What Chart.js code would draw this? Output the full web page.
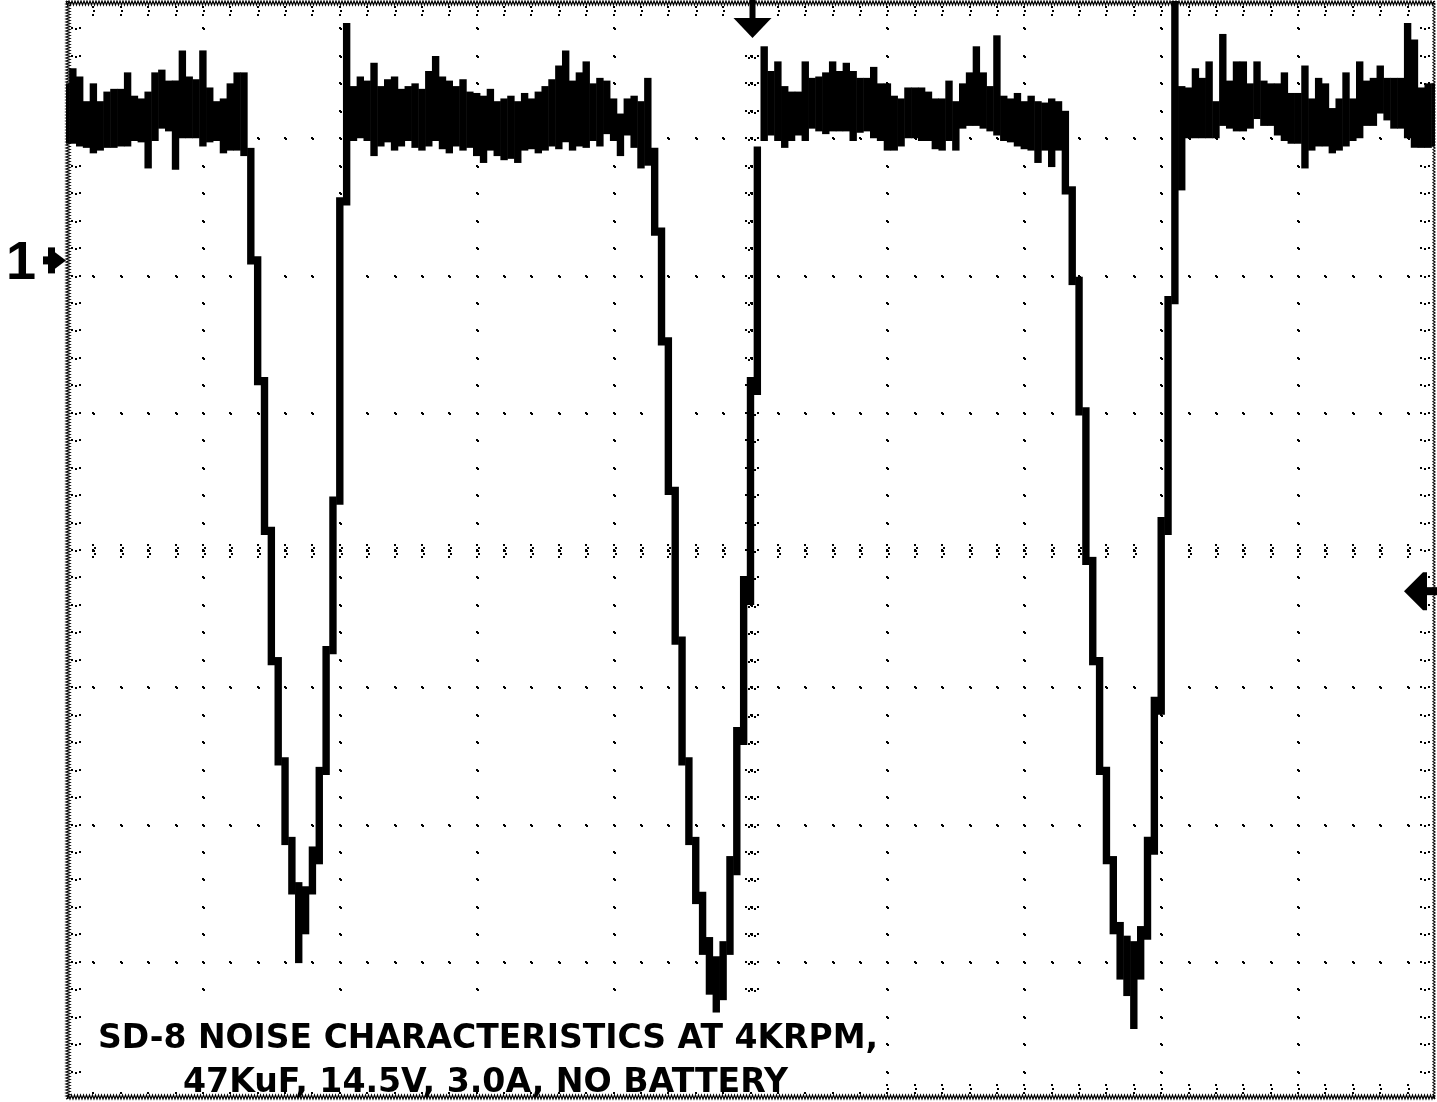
<!DOCTYPE html>
<html>
<head>
<meta charset="utf-8">
<script src="https://cdn.jsdelivr.net/npm/chart.js@4.4.1/dist/chart.umd.min.js"></script>
<style>
  html, body { margin: 0; padding: 0; background: #fff; }
  #wrap { width: 1437px; height: 1102px; position: relative; }
</style>
</head>
<body>
<div id="wrap"><canvas id="scope"></canvas></div>
<script>
// Scope screen: 10 horizontal divisions (-5..5), 8 vertical divisions (-4..4).
// Each sample column holds the min / max of the trace inside it (peak detect).
const SAMPLE_STEP = 0.05;

const TRACE_HIGH = [
    3.40, 3.51, 3.45, 3.27, 3.40, 3.27, 3.34, 3.36, 3.36, 3.48, 3.31, 3.29, 3.34, 3.48, 3.50, 3.42, 3.42, 3.64, 3.45, 3.43, 3.64, 3.37, 3.27, 3.29, 3.40, 3.48, 3.48,
    2.93, 2.14, 1.26, 0.17, -0.78, -1.51, -2.09, -2.42, -2.45, -2.16, -1.58, -0.70, 0.39, 2.57, 3.84,
    3.38, 3.45, 3.42, 3.55, 3.38, 3.43, 3.45, 3.36, 3.38, 3.40, 3.36, 3.49, 3.60, 3.45, 3.42, 3.38, 3.43, 3.34, 3.33, 3.31, 3.36, 3.27,
    3.29, 3.31, 3.27, 3.33, 3.29, 3.34, 3.38, 3.43, 3.53, 3.64, 3.42, 3.48, 3.56, 3.40, 3.44, 3.42, 3.29, 3.18, 3.29, 3.31, 3.27, 3.44,
    2.93, 2.35, 1.55, 0.46, -0.63, -1.51, -2.09, -2.49, -2.82, -2.96, -2.85, -2.23, -1.29, -0.19, 1.26, 2.94, 3.67,
    3.49, 3.56, 3.38, 3.34, 3.34, 3.56, 3.44, 3.45, 3.48, 3.56, 3.49, 3.55, 3.49, 3.44, 3.44, 3.52, 3.40, 3.40, 3.31, 3.29, 3.37, 3.37,
    3.37, 3.34, 3.29, 3.29, 3.42, 3.27, 3.40, 3.48, 3.67, 3.48, 3.38, 3.75, 3.31, 3.29, 3.33, 3.27, 3.31, 3.27, 3.26, 3.29, 3.27,
    3.20, 2.65, 1.99, 1.04, -0.05, -0.78, -1.58, -2.23, -2.71, -2.81, -2.85, -2.74, -2.09, -1.07, 0.24, 1.85, 4.00, 3.38,
    3.37, 3.51, 3.44, 3.56, 3.27, 3.76, 3.42, 3.56, 3.56, 3.40, 3.56, 3.42, 3.40, 3.40, 3.48, 3.33, 3.33, 3.53, 3.29,
    3.44, 3.40, 3.22, 3.29, 3.48, 3.29, 3.56, 3.42, 3.44, 3.53, 3.44, 3.44, 3.44, 3.84, 3.72, 3.37, 3.40, 3.40
];

const TRACE_LOW = [
    2.96, 2.96, 2.94, 2.93, 2.89, 2.91, 2.93, 2.93, 2.94, 2.94, 2.98, 2.97, 2.78, 2.98, 3.07, 3.05, 2.77, 3.00, 3.00, 3.00, 2.94, 2.97, 2.98, 2.89, 2.91, 2.91, 2.87,
    2.08, 1.20, 0.11, -0.84, -1.57, -2.15, -2.51, -3.01, -2.80, -2.51, -2.29, -1.64, -0.76, 0.33, 2.51,
    2.98, 3.00, 2.98, 2.87, 2.94, 2.97, 2.91, 2.94, 2.98, 2.93, 2.91, 2.94, 2.98, 2.92, 2.89, 2.94, 2.91, 2.93, 2.87, 2.82, 2.91, 2.87,
    2.84, 2.85, 2.82, 2.91, 2.92, 2.89, 2.91, 2.94, 2.92, 2.97, 2.91, 2.94, 2.93, 2.98, 2.94, 3.03, 2.98, 2.87, 3.02, 2.93, 2.78, 2.80,
    2.29, 1.49, 0.40, -0.69, -1.57, -2.15, -2.58, -2.95, -3.24, -3.37, -3.28, -2.95, -2.37, -1.42, -0.40, 1.13, 2.98,
    3.02, 2.98, 2.93, 2.98, 3.02, 2.98, 3.07, 3.05, 3.03, 3.05, 3.05, 3.05, 2.98, 3.04, 3.05, 3.00, 2.98, 2.91, 2.91, 2.94, 3.00, 3.00,
    2.98, 2.98, 2.92, 2.91, 2.98, 2.91, 3.07, 3.09, 3.09, 3.07, 3.05, 3.02, 2.98, 2.97, 2.94, 2.92, 2.91, 2.82, 2.91, 2.79, 2.91,
    2.59, 1.93, 0.98, -0.11, -0.84, -1.64, -2.29, -2.80, -3.13, -3.25, -3.49, -3.13, -2.84, -2.22, -1.20, 0.11, 1.79, 2.62,
    3.00, 3.00, 3.00, 3.00, 3.00, 3.09, 3.07, 3.05, 3.05, 3.07, 3.14, 3.09, 3.09, 3.02, 2.98, 2.96, 2.96, 2.78, 2.91,
    2.94, 2.94, 2.89, 2.91, 2.94, 2.98, 3.00, 3.09, 3.09, 3.18, 3.13, 3.07, 3.07, 3.00, 2.93, 2.93, 2.93, 2.94
];

const GROUND_LEVEL = 2.11;    // channel 1 marker
const TRIGGER_LEVEL = -0.30;  // right edge arrow
const TRIGGER_TIME = 0;       // top arrow
const NOTE_LINES = ["SD-8 NOISE CHARACTERISTICS AT 4KRPM,", "47KuF, 14.5V, 3.0A, NO BATTERY"];

const samples = TRACE_HIGH.map((hi, i) => ({
    x: -5 + i * SAMPLE_STEP,
    y: [TRACE_LOW[i], hi],
}));

function dot(ctx, x, y) {
    x = Math.round(x);
    y = Math.round(y);
    ctx.fillRect(x - 1, y - 1, 2, 2);
    ctx.fillRect(x, y, 2, 2);
}

function zigzag(ctx, x0, y0, x1, y1, amp) {
    const len = Math.hypot(x1 - x0, y1 - y0);
    const ux = (x1 - x0) / len, uy = (y1 - y0) / len;
    ctx.beginPath();
    for (let s = 0, k = 0; s <= len; s += 1.5, k++) {
        const off = k % 2 ? amp : 0;
        const px = x0 + ux * s - uy * off;
        const py = y0 + uy * s + ux * off;
        if (k) ctx.lineTo(px, py); else ctx.moveTo(px, py);
    }
    ctx.stroke();
}

// graticule, border ticks and the note box
const graticule = {
    id: "graticule",
    beforeDatasetsDraw(chart) {
        const { ctx, chartArea: a, scales: { x, y } } = chart;
        ctx.save();
        ctx.fillStyle = "#000";
        ctx.strokeStyle = "#000";
        ctx.lineWidth = 1.2;

        // dotted major lines
        for (let gx = -4; gx <= 4; gx++) {
            const px = x.getPixelForValue(gx);
            for (let m = -19; m <= 19; m++) dot(ctx, px, y.getPixelForValue(m * 0.2));
        }
        for (let gy = -3; gy <= 3; gy++) {
            const py = y.getPixelForValue(gy);
            for (let m = -24; m <= 24; m++) dot(ctx, x.getPixelForValue(m * 0.2), py);
        }

        // centre axes with small cross ticks
        const cx = x.getPixelForValue(0), cy = y.getPixelForValue(0);
        for (let m = -24; m <= 24; m++) {
            const px = x.getPixelForValue(m * 0.2);
            for (let d = -6; d <= 6; d += 3) ctx.fillRect(Math.round(px) + (d % 2 ? 1 : -1), Math.round(cy + d), 2, 2);
        }
        for (let m = -19; m <= 19; m++) {
            const py = y.getPixelForValue(m * 0.2);
            for (let d = -6; d <= 6; d += 3) ctx.fillRect(Math.round(cx + d), Math.round(py) + (d % 2 ? 1 : -1), 2, 2);
        }

        // border
        zigzag(ctx, a.left, a.top, a.right, a.top, 4);
        zigzag(ctx, a.right, a.top, a.right, a.bottom, 2);
        zigzag(ctx, a.right, a.bottom, a.left, a.bottom, 4);
        zigzag(ctx, a.left, a.bottom, a.left, a.top, 4);
        for (let m = -24; m <= 24; m++) {
            const px = x.getPixelForValue(m * 0.2);
            for (let d = 5; d <= 13; d += 4) {
                ctx.fillRect(Math.round(px) + (d % 8 === 5 ? -1 : 0), a.top + d, 2, 2);
                ctx.fillRect(Math.round(px) + (d % 8 === 5 ? -1 : 0), a.bottom - d - 2, 2, 2);
            }
        }
        for (let m = -19; m <= 19; m++) {
            const py = y.getPixelForValue(m * 0.2);
            for (let d = 5; d <= 13; d += 4) {
                ctx.fillRect(a.left + d, Math.round(py) + (d % 8 === 5 ? -1 : 0), 2, 2);
                ctx.fillRect(a.right - d - 2, Math.round(py) + (d % 8 === 5 ? -1 : 0), 2, 2);
            }
        }

        // note box
        ctx.fillStyle = "#fff";
        ctx.fillRect(a.left + 18, a.bottom - 87, 802, 80);
        ctx.fillStyle = "#000";
        ctx.font = 'bold 34px "DejaVu Sans"';
        ctx.textBaseline = "alphabetic";
        const lines = [
            { text: NOTE_LINES[0], x: a.left + 32, y: a.bottom - 51, w: 780 },
            { text: NOTE_LINES[1], x: a.left + 117, y: a.bottom - 7, w: 605 },
        ];
        lines.forEach((l) => {
            const sx = l.w / ctx.measureText(l.text).width;
            ctx.save();
            ctx.translate(l.x, l.y);
            ctx.scale(sx, 1);
            ctx.fillText(l.text, 0, 0);
            ctx.restore();
        });
        ctx.restore();
    },
    afterDatasetsDraw(chart) {
        const { ctx, chartArea: a, scales: { x, y } } = chart;
        ctx.save();
        ctx.fillStyle = "#000";

        // trigger position
        const tx = x.getPixelForValue(TRIGGER_TIME) + 2;
        ctx.fillRect(tx - 3, a.top - 1, 6, 19);
        ctx.beginPath();
        ctx.moveTo(tx - 19, a.top + 17);
        ctx.lineTo(tx + 19, a.top + 17);
        ctx.lineTo(tx, a.top + 37);
        ctx.closePath();
        ctx.fill();

        // trigger level
        const ty = y.getPixelForValue(TRIGGER_LEVEL);
        ctx.beginPath();
        ctx.moveTo(a.right - 31, ty);
        ctx.lineTo(a.right - 12, ty - 19);
        ctx.lineTo(a.right - 8, ty - 19);
        ctx.lineTo(a.right - 8, ty + 19);
        ctx.lineTo(a.right - 12, ty + 19);
        ctx.closePath();
        ctx.fill();
        ctx.fillRect(a.right - 10, ty - 4, 12, 8);

        // channel 1 ground marker
        const gy = y.getPixelForValue(GROUND_LEVEL);
        ctx.fillRect(a.left - 18, gy - 13, 7, 26);
        ctx.beginPath();
        ctx.moveTo(a.left - 12, gy - 9);
        ctx.lineTo(a.left - 12, gy + 9);
        ctx.lineTo(a.left, gy);
        ctx.closePath();
        ctx.fill();
        ctx.fillRect(a.left - 23, gy - 4, 7, 8);
        ctx.font = 'bold 54px "Liberation Sans"';
        ctx.textAlign = "right";
        ctx.fillText("1", a.left - 30, gy + 19);
        ctx.restore();
    },
};

const ctx = document.getElementById("scope").getContext("2d");
const scopeChart = new Chart(ctx, {
    type: "bar",
    data: {
        datasets: [
            {
                label: "CH1",
                data: samples,
                backgroundColor: "#000",
                borderWidth: 0,
                barPercentage: 1.08,
                categoryPercentage: 1,
            },
        ],
    },
    options: {
        responsive: true,
        maintainAspectRatio: false,
        animation: false,
        layout: { padding: { left: 66, top: 1, right: 2, bottom: 3 } },
        plugins: { legend: { display: false }, tooltip: { enabled: false } },
        scales: {
            x: { type: "linear", min: -5, max: 5, offset: false, display: false },
            y: { type: "linear", min: -4, max: 4, display: false },
        },
    },
    plugins: [graticule],
});
</script>
</body>
</html>
